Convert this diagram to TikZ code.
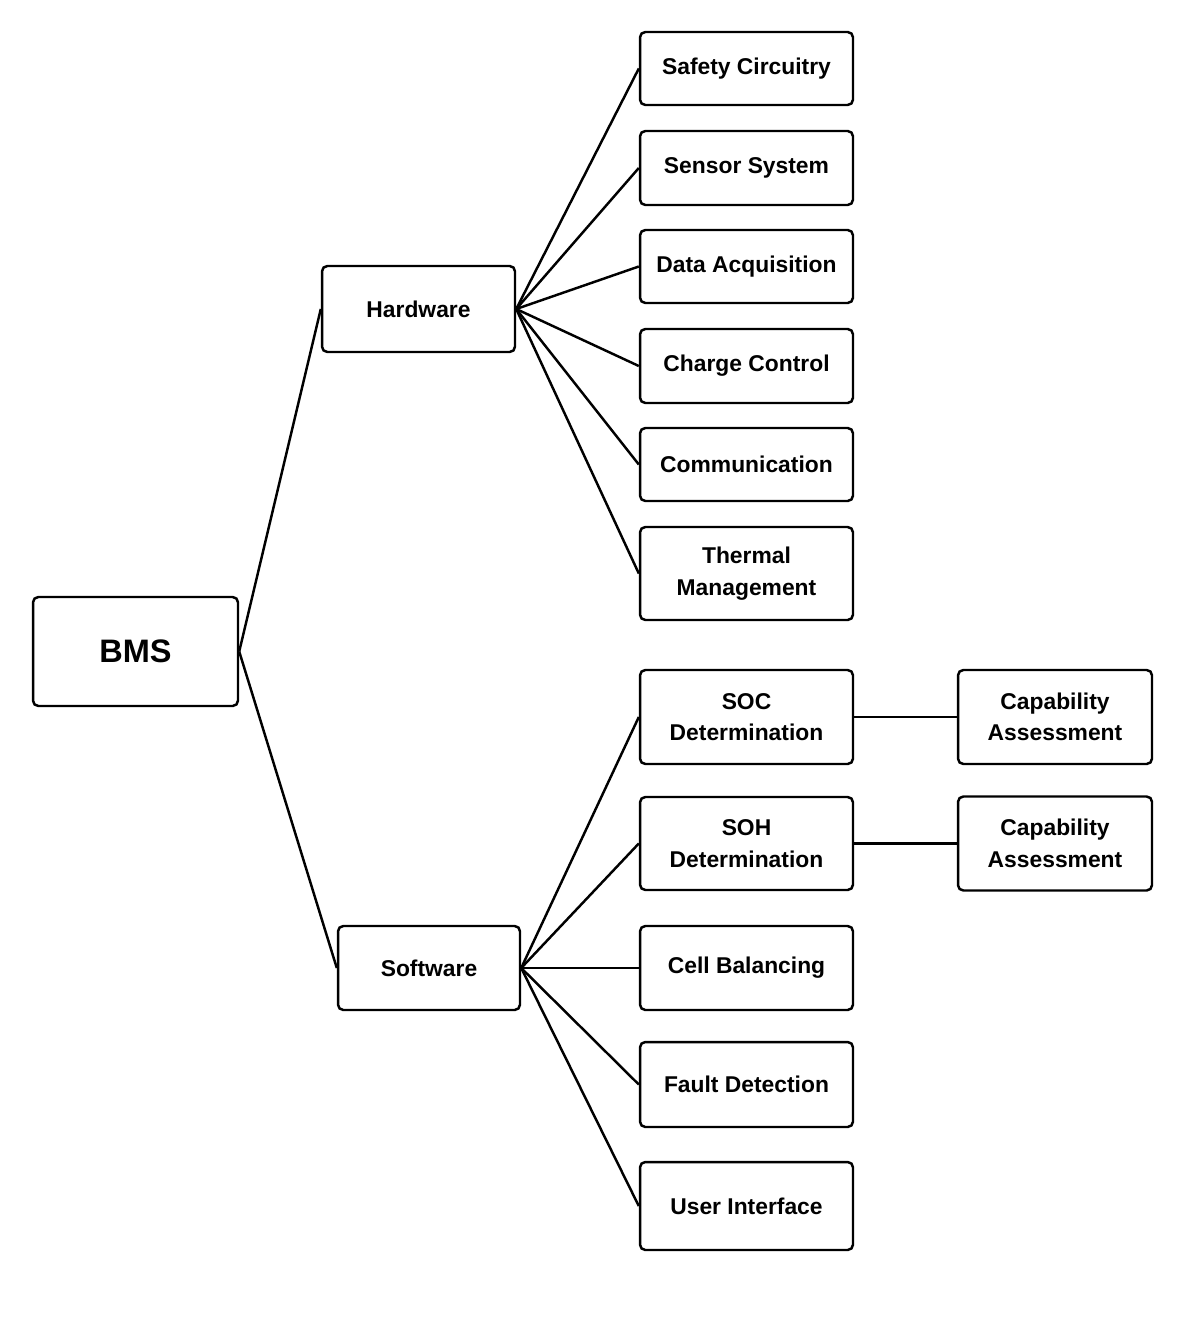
\documentclass[tikz,border=0pt]{standalone}
\usepackage{fontspec}
\setmainfont{Liberation Sans}
\usepackage{tikz}

\tikzset{
	box/.style={draw, line width=1.4pt, rounded corners=3pt, align=center,
		font=\fontsize{13}{18}\selectfont\bfseries, inner sep=2pt},
	link/.style={line width=1.4pt}
}

\begin{document}
\begin{tikzpicture}[x=0.02cm, y=-0.02cm]
				\useasboundingbox (0,0) rectangle (1194,1317);
				
				% root and the two branches
				\node[box, minimum width=4.1cm, minimum height=2.18cm,
					font=\fontsize{18.5}{22}\selectfont\bfseries] (bms) at (135.5,651.5) {BMS};
				\node[box, minimum width=3.86cm, minimum height=1.72cm] (hw) at (418.5,309) {Hardware};
				\node[box, minimum width=3.64cm, minimum height=1.68cm] (sw) at (429,968) {Software};
				
				% hardware parts
				\foreach \n/\y/\h/\t in
				{sc/68.5/1.46/{Safety Circuitry}, ss/168/1.48/{Sensor System},
				 da/266.5/1.46/{Data Acquisition}, cc/366/1.48/{Charge Control},
				 com/464.5/1.46/{Communication}, tm/573.5/1.86/{Thermal\\Management}}{
					\node[box, minimum width=4.26cm, minimum height=\h cm] (\n) at (746.5,\y) {\t};
					\draw[link] (hw.east)--(\n.west);
				}
				
				% software parts
				\foreach \n/\y/\h/\t in
				{soc/717/1.88/{SOC\\Determination}, soh/843.5/1.86/{SOH\\Determination},
				 cb/968/1.68/{Cell Balancing}, fd/1084.5/1.70/{Fault Detection},
				 ui/1206/1.76/{User Interface}}{
					\node[box, minimum width=4.26cm, minimum height=\h cm] (\n) at (746.5,\y) {\t};
					\draw[link] (sw.east)--(\n.west);
				}
				
				% capability boxes
				\foreach \n/\p/\y in {capa/soc/717, capb/soh/843.5}{
					\node[box, minimum width=3.88cm, minimum height=1.88cm] (\n) at (1055,\y) {Capability\\Assessment};
					\draw[link] (\p.east)--(\n.west);
				}
				
				\foreach \x in {hw, sw}{
					\draw[link] (bms.east)--(\x.west);
				}
			\end{tikzpicture}
\end{document}
